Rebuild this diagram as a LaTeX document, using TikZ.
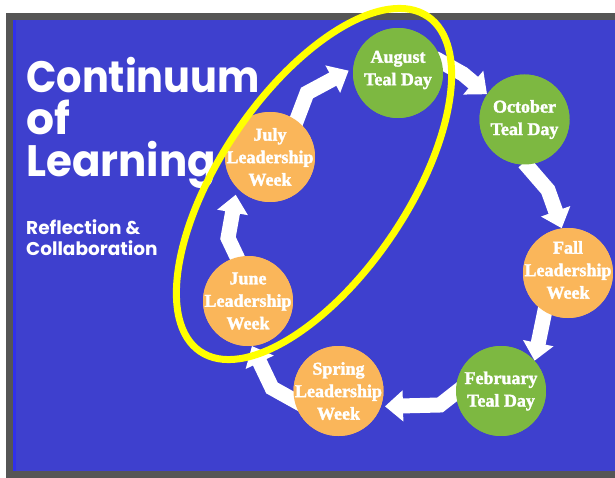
\documentclass[tikz,border=0pt]{standalone}
\usepackage{fontspec}
\usepackage{graphicx}
\newfontfamily\titlefont{Poppins}
\newfontfamily\circfont{Liberation Serif Bold}[FakeBold=1.8]
\usetikzlibrary{arrows.meta}
\definecolor{bgblue}{RGB}{62,64,206}
\definecolor{framegray}{RGB}{85,85,85}
\definecolor{edgeblue}{RGB}{48,48,236}
\definecolor{tgreen}{RGB}{125,184,65}
\definecolor{torange}{RGB}{250,182,90}
\definecolor{hlyellow}{RGB}{255,255,0}
\begin{document}
\begin{tikzpicture}[x=1pt,y=-1pt,
  circ/.style={circle, minimum size=90pt, inner sep=0pt, draw=none},
  gcirc/.style={circ, fill=tgreen},
  ocirc/.style={circ, fill=torange},
  lbl/.style={text=white, align=center, inner sep=0pt,
    font=\fontsize{18}{22.5}\circfont},
  bigtitle/.style={text=white, inner sep=0pt, anchor=base west,
    font=\fontsize{44}{44}\titlefont\bfseries},
  subtitle/.style={text=white, inner sep=0pt, anchor=base west,
    font=\fontsize{18.5}{20}\titlefont\bfseries},
  arr/.style={draw=white, line width=15pt, line join=miter,
    -{Triangle[length=18pt,width=30pt]}},
  hl/.style={draw=hlyellow, line width=7pt}
]
\useasboundingbox (0,0) rectangle (615,478);
\fill[white] (0,0) rectangle (615,478);
\fill[framegray] (6,13) rectangle (615,478);
\fill[bgblue] (13,20) rectangle (615,471);
\fill[edgeblue] (13,20) rectangle (16,471);

% titles
\node[bigtitle] (t1) at (26,93) {\scalebox{0.907}[1]{Continuum}};
\node[bigtitle] (t2) at (26,135) {of};
\node[bigtitle] (t3) at (26,177) {\scalebox{0.954}[1]{Learning}};
\node[subtitle] (s1) at (26,235) {Reflection \&};
\node[subtitle] (s2) at (26,255) {Collaboration};

% bend points
\coordinate (b1) at (307,93);
\coordinate (b2) at (463,74);
\coordinate (b3) at (548,190);
\coordinate (b5) at (440,405);
\coordinate (b6) at (272,388);
\coordinate (b7) at (228,238);

\path
  (398,73)   node[gcirc] (aug) {}
  (524.5,119.5) node[gcirc] (oct) {}
  (568,273)  node[ocirc] (fall) {}
  (501,391)  node[gcirc] (feb) {}
  (338.5,391) node[ocirc] (spring) {}
  (248,301)  node[ocirc] (june) {}
  (270,157)  node[ocirc] (july) {};

% arrows
\draw[arr, shorten <=-10pt, shorten >=5pt] (july.54) -- (b1) -- (aug.174);
\draw[arr, shorten <=-8pt] (aug.14) -- (b2) -- (oct.146);
\draw[arr, shorten <=-3pt] (oct.-88) -- (b3) -- (fall.98);
\draw[arr, shorten <=-10pt] (fall.-121) -- (feb.42);
\draw[arr, shorten <=-8pt, shorten >=4pt] (feb.182) -- (b5) -- (spring.-20);
\draw[arr, shorten <=-8pt] (spring.192) -- (b6) -- (june.-85);
\draw[arr, shorten <=-8pt, shorten >=7pt] (june.104) -- (b7) -- (july.-137);

% circles drawn over arrow tails
\path
  (aug) node[gcirc] (augc) {}
  (oct) node[gcirc] (octc) {}
  (fall) node[ocirc] (fallc) {}
  (feb) node[gcirc] (febc) {}
  (spring) node[ocirc] (springc) {}
  (june) node[ocirc] (junec) {}
  (july) node[ocirc] (julyc) {};

\node[lbl] (augt) at ([yshift=3pt]aug) {August\\Teal Day};
\node[lbl] (octt) at (oct) {October\\Teal Day};
\node[lbl] (fallt) at ([yshift=3pt]fall) {Fall\\Leadership\\Week};
\node[lbl] (febt) at (feb) {February\\Teal Day};
\node[lbl] (springt) at (spring) {Spring\\Leadership\\Week};
\node[lbl] (junet) at (june) {June\\Leadership\\Week};
\node[lbl] (julyt) at (july) {July\\Leadership\\Week};

% highlight ellipse
\draw[hl, rotate around={55.8:(314,184)}] (314,184) ellipse [x radius=202.5pt, y radius=93.5pt];
\end{tikzpicture}
\end{document}
